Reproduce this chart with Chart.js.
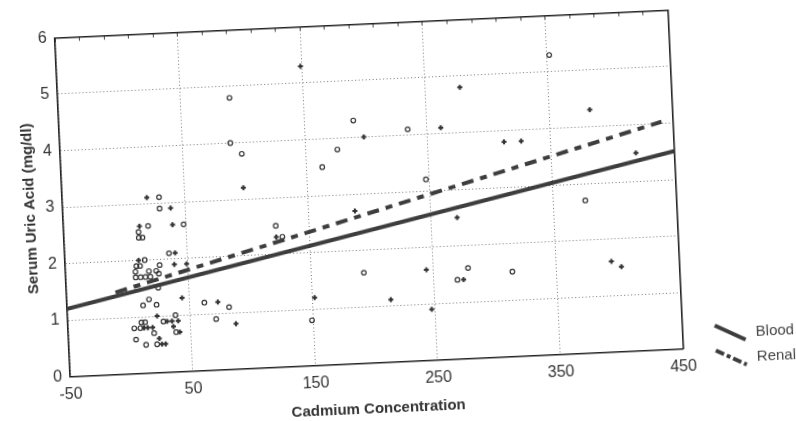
<!DOCTYPE html>
<html><head><meta charset="utf-8">
<script src="https://cdn.jsdelivr.net/npm/chart.js@4"></script>
<style>
html,body{margin:0;padding:0;background:#fff;overflow:hidden;width:796px;height:421px;}
#wrap{position:absolute;left:0;top:0;width:796px;height:421px;transform:rotate(-2.6deg);transform-origin:398px 210.5px;}
canvas{display:block}
</style></head><body>
<div id="wrap"><canvas id="c" width="796" height="421"></canvas></div>
<script>
// ---- data ----
const xTicks = [-50, 50, 150, 250, 350, 450];
const yTicks = [0, 1, 2, 3, 4, 5, 6];
const seriesNames = ['Blood', 'Renal'];
const xTitle = 'Cadmium Concentration';
const yTitle = 'Serum Uric Acid (mg/dl)';

// open circles
const bloodX = [29,29,19,48,11,11,14,35,15,8, 11,27,7,18,24,7,11,15,19,26, 25,17,12,23,38,10,13,28,4,9, 20,38,5,13,22,62,82,71,149,90, 89,98,190,176,163,234,247,123,128,193, 352,376,278,269,314];
const bloodY = [3.1,2.9,2.6,2.6,2.5,2.4,2.4,2.1,2.0,1.9, 1.9,1.9,1.8,1.8,1.8,1.7,1.7,1.7,1.7,1.75, 1.5,1.3,1.2,1.2,1.0,0.9,0.9,0.9,0.8,0.8, 0.7,0.7,0.6,0.5,0.5,1.2,1.1,0.9,0.8,4.8, 4.0,3.8,4.3,3.8,3.5,4.1,3.2,2.5,2.3,1.6, 5.3,2.7,1.6,1.4,1.5];
// crosses
const renalX = [19,38,39,12,40,10,39,49,44,23, 31,35,40,12,15,19,36,41,24,26, 29,73,87,152,149,98,198,123,188,214, 244,278,383,261,312,326,419,271,274,395, 403,247];
const renalY = [3.1,2.9,2.6,2.6,2.1,2.0,1.9,1.9,1.3,1.0, 0.9,0.9,0.9,0.8,0.8,0.8,0.8,0.7,0.6,0.5, 0.5,1.2,0.8,1.2,5.3,3.2,4.0,2.3,2.7,1.1, 1.6,4.8,4.3,4.1,3.8,3.8,3.5,2.5,1.4,1.6, 1.5,0.9];
// fitted lines (end points)
const bloodFitX = [-50, 450];
const bloodFitY = [1.2, 3.5];
const renalFitX = [-10, 441];
const renalFitY = [1.45, 4.03];

// ---- chart ----
const F = "'Liberation Sans', Arial, sans-serif";
const LINE = '#3d3d3d';
const PT = '#333';
const renalDash = [12, 7, 7, 7];
const pts = (xs, ys) => xs.map((x, i) => ({x: x, y: ys[i]}));

// small legend swatch (a short line sample) drawn on an offscreen canvas
function swatch(dash) {
  const cv = document.createElement('canvas');
  cv.width = 34; cv.height = 4;
  const g = cv.getContext('2d');
  g.strokeStyle = LINE; g.lineWidth = 4; g.lineCap = 'butt';
  g.setLineDash(dash);
  g.beginPath(); g.moveTo(0, 2); g.lineTo(34, 2); g.stroke();
  return cv;
}
const swBlood = swatch([]);
const swRenal = swatch([9, 3, 4, 3]);

new Chart(document.getElementById('c'), {
  type: 'scatter',
  data: {
    datasets: [
      {label: seriesNames[0], data: pts(bloodFitX, bloodFitY), showLine: true, borderColor: LINE, borderWidth: 4, pointRadius: 0, fill: false},
      {label: seriesNames[1], data: pts(renalFitX, renalFitY), showLine: true, borderColor: LINE, borderWidth: 4, borderDash: renalDash, pointRadius: 0, fill: false},
      {label: seriesNames[0] + ' data', data: pts(bloodX, bloodY), pointStyle: 'circle', pointRadius: 2.3, borderColor: PT, borderWidth: 1.2, backgroundColor: 'rgba(255,255,255,0)'},
      {label: seriesNames[1] + ' data', data: pts(renalX, renalY), pointStyle: 'cross', pointRadius: 2.5, borderColor: PT, borderWidth: 2, backgroundColor: PT}
    ]
  },
  options: {
    responsive: false,
    animation: false,
    devicePixelRatio: 1,
    layout: {padding: {left: 20, top: 22.5, right: -3, bottom: 6}},
    plugins: {
      tooltip: {enabled: false},
      legend: {
        position: 'right',
        align: 'end',
        labels: {
          usePointStyle: true,
          pointStyleWidth: 36,
          padding: 10,
          color: '#444',
          font: {size: 15, family: F},
          generateLabels: () => [
            {text: seriesNames[0], pointStyle: swBlood, rotation: 27, strokeStyle: LINE, fillStyle: LINE, lineWidth: 0, fontColor: '#444', hidden: false, datasetIndex: 0},
            {text: seriesNames[1], pointStyle: swRenal, rotation: 27, strokeStyle: LINE, fillStyle: LINE, lineWidth: 0, fontColor: '#444', hidden: false, datasetIndex: 1},
            {text: '', pointStyle: 'line', rotation: 0, strokeStyle: 'rgba(0,0,0,0)', fillStyle: 'rgba(0,0,0,0)', lineWidth: 0, hidden: false}
          ]
        }
      }
    },
    scales: {
      x: {
        type: 'linear', position: 'bottom', min: xTicks[0], max: xTicks[xTicks.length - 1],
        afterBuildTicks: s => { s.ticks = xTicks.map(v => ({value: v})); },
        afterFit: s => { s.height = 53.5; },
        grid: {color: '#777', lineWidth: 1, drawTicks: false},
        border: {display: true, color: '#222', width: 1.6, dash: [1, 2.5]},
        ticks: {padding: 8, color: '#333', font: {size: 16, family: F}},
        title: {display: true, text: xTitle, color: '#333', font: {size: 15, weight: 'bold', family: F}, padding: {top: 0, bottom: -2}}
      },
      y: {
        type: 'linear', position: 'left', min: yTicks[0], max: yTicks[yTicks.length - 1],
        afterBuildTicks: s => { s.ticks = yTicks.map(v => ({value: v})); },
        afterFit: s => { s.width = 43; },
        grid: {color: '#777', lineWidth: 1, drawTicks: false},
        border: {display: true, color: '#222', width: 1.6, dash: [1, 2.5]},
        ticks: {padding: 8, color: '#333', font: {size: 16, family: F}},
        title: {display: true, text: yTitle, color: '#333', font: {size: 15, weight: 'bold', family: F}, padding: {top: 2, bottom: 0}}
      },
      x2: {
        type: 'linear', position: 'top', min: xTicks[0], max: xTicks[xTicks.length - 1],
        ticks: {display: false, stepSize: 20},
        grid: {display: true, drawOnChartArea: false, drawTicks: true, tickLength: -4, color: '#444', tickColor: '#444', tickWidth: 1},
        border: {display: true, color: '#222', width: 1.6},
        afterFit: s => { s.height = 0; }
      },
      y2: {
        type: 'linear', position: 'right', min: yTicks[0], max: yTicks[yTicks.length - 1],
        ticks: {display: false},
        grid: {display: false},
        border: {display: true, color: '#222', width: 1.6},
        afterFit: s => { s.width = 20; }
      }
    }
  }
});
</script>
</body></html>
